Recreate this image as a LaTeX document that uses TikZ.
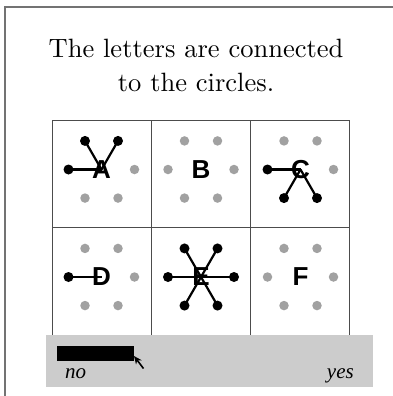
\documentclass[tikz,border=0pt]{standalone}
\usepackage{fontspec}
\newfontfamily\titlefont[Extension=.otf]{lmroman10-regular}
\newfontfamily\letterfont{Liberation Sans}
\newfontfamily\answerfont{Liberation Serif}
\usetikzlibrary{calc,arrows.meta}

\begin{document}
\begin{tikzpicture}[x=1pt, y=-1pt,
    title/.style={font=\titlefont\fontsize{26.5}{34}\selectfont, inner sep=0pt},
    letter/.style={font=\letterfont\bfseries\fontsize{26}{26}\selectfont, inner sep=0pt},
    circ/.style={circle, fill=black!37, minimum size=9.5pt, inner sep=0pt},
    hit/.style={circ, fill=black, minimum size=10pt},
    link/.style={line width=2.2pt},
    answer/.style={font=\answerfont\itshape\fontsize{21}{21}\selectfont, inner sep=0pt}]
    \useasboundingbox (0,0) rectangle (392,396);

    % Cadre
    \draw [black!55, line width=1.3pt] (5,400) -- (5,7) -- (400,7);

    % Consigne
    \node [title, anchor=base] (line1) at (196,57) {The letters are connected};
    \node [title, anchor=base] (line2) at (196,91) {to the circles.};

    % Grille 3 x 2
    \draw [black!70, line width=0.9pt] (52,120) rectangle (349.5,340);
    \draw [black!70, line width=0.9pt] (151,120) -- (151,340);
    \draw [black!70, line width=0.9pt] (250.5,120) -- (250.5,340);
    \draw [black!70, line width=0.9pt] (52,227) -- (349.5,227);

    % Lettres
    \foreach \c/\x/\y in {A/101.5/169.5, B/201/169.5, C/300.5/169.5,
                          D/101.5/277, E/201/277, F/300.5/277}
        \node [letter] (\c) at (\x,\y) {\c};

    % Cercles libres (gris)
    \foreach \c/\a in {A/0, A/60, A/120,
                       B/0, B/60, B/120, B/180, B/240, B/300,
                       C/0, C/240, C/300,
                       D/0, D/60, D/120, D/240, D/300,
                       F/0, F/60, F/120, F/180, F/240, F/300}
        \node [circ] (\c-\a) at ($(\c)+(\a:33)$) {};

    % Cercles relies (noirs)
    \foreach \c/\a in {A/180, A/240, A/300,
                       C/180, C/60, C/120,
                       D/180,
                       E/0, E/60, E/120, E/180, E/240, E/300}
        \node [hit] (\c-\a) at ($(\c)+(\a:33)$) {};

    % Liaisons
    \foreach \c/\a in {A/180, A/240, A/300,
                       C/180, C/60, C/120,
                       D/180,
                       E/0, E/60, E/120, E/180, E/240, E/300}
        \draw [link] (\c-\a.center) -- (\c.center);

    % Echelle de reponse
    \fill [black!20] (46,335) rectangle (373,387);
    \fill [black] (57,346) rectangle (134,361);
    \coordinate (tip) at (134,356);
    \coordinate (tail) at (143.5,368.5);
    \draw [line width=1.6pt, -{Stealth[length=8pt, width=7pt]}] (tail) -- (tip);
    \node [answer, anchor=base west] (no) at (65,378) {no};
    \node [answer, anchor=base east] (yes) at (354,378) {yes};
\end{tikzpicture}
\end{document}
